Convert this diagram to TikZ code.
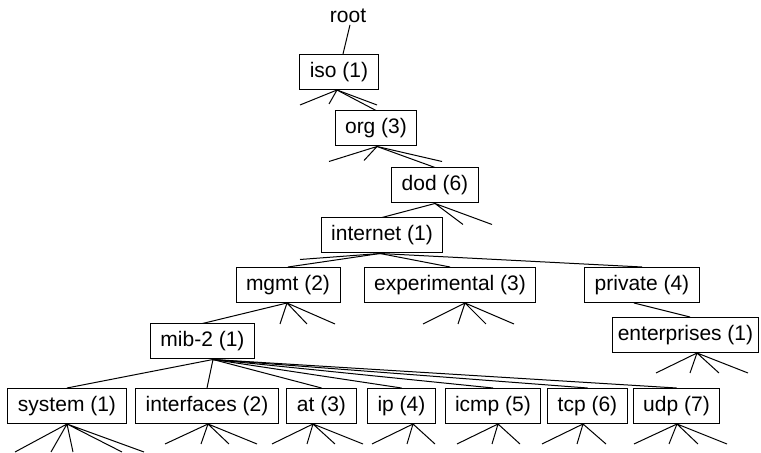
\documentclass[tikz,border=0pt]{standalone}
\usepackage{fontspec}
\setmainfont{Liberation Sans}
\begin{document}
\begin{tikzpicture}[x=0.5pt,y=-0.5pt,line width=0.5pt]
\tikzstyle{oid}=[draw, inner xsep=5pt, inner ysep=0pt, minimum height=17.5pt, font=\fontsize{10.5pt}{12pt}\selectfont]
\useasboundingbox (0,0) rectangle (761,453);
\node[inner sep=1pt, font=\fontsize{10.5pt}{12pt}\selectfont] (root) at (348,15.5) {root};
\node[oid] (iso) at (339,72) {iso (1)};
\node[oid] (org) at (376,128.5) {org (3)};
\node[oid] (dod) at (435,185.5) {dod (6)};
\node[oid] (internet) at (382,235.5) {internet (1)};
\node[oid] (mgmt) at (288,285) {mgmt (2)};
\node[oid] (experimental) at (450,285) {experimental (3)};
\node[oid] (private) at (642,285) {private (4)};
\node[oid, inner xsep=2.5pt] (enterprises) at (685.5,335) {enterprises (1)};
\node[oid] (mib) at (202.5,341.5) {mib-2 (1)};
\node[oid] (system) at (67,406) {system (1)};
\node[oid] (interfaces) at (207,406) {interfaces (2)};
\node[oid] (attab) at (321.5,406) {at (3)};
\node[oid] (ip) at (401.5,406) {ip (4)};
\node[oid] (icmp) at (493,406) {icmp (5)};
\node[oid] (tcp) at (587.5,406) {tcp (6)};
\node[oid] (udp) at (676.5,406) {udp (7)};
% where the branches leave each box
\coordinate (iso-o) at ([xshift=-1pt]iso.south);
\coordinate (org-o) at ([xshift=0.5pt]org.south);
\coordinate (dod-o) at (dod.south);
\coordinate (internet-o) at ([xshift=-1pt]internet.south);
\coordinate (mgmt-o) at ([xshift=-0.5pt]mgmt.south);
\coordinate (experimental-o) at ([xshift=7.5pt]experimental.south);
\coordinate (private-o) at ([xshift=-4pt]private.south);
\coordinate (enterprises-o) at ([xshift=5.75pt]enterprises.south);
\coordinate (mib-o) at ([xshift=5.25pt]mib.south);
\coordinate (system-o) at (system.south);
\coordinate (interfaces-o) at ([xshift=0.5pt]interfaces.south);
\coordinate (attab-o) at ([xshift=-4.25pt]attab.south);
\coordinate (ip-o) at ([xshift=5.75pt]ip.south);
\coordinate (icmp-o) at ([xshift=2.5pt]icmp.south);
\coordinate (tcp-o) at ([xshift=-2.25pt]tcp.south);
\coordinate (udp-o) at ([xshift=0.25pt]udp.south);
% tree edges
\draw ([xshift=1pt]root.south) -- ([xshift=2pt]iso.north);
\draw (iso-o) -- (org.north);
\draw (org-o) -- (dod.north);
\draw (dod-o) -- (internet.north);
\draw (internet-o) -- (mgmt.north);
\draw (internet-o) -- (experimental.north);
\draw (internet-o) -- (private.north);
\draw (mgmt-o) -- (mib.north);
\draw (private-o) -- ([xshift=2.25pt]enterprises.north);
\draw (mib-o) -- (system.north);
\draw (mib-o) -- (interfaces.north);
\draw (mib-o) -- (attab.north);
\draw (mib-o) -- (ip.north);
\draw (mib-o) -- (icmp.north);
\draw (mib-o) -- (tcp.north);
\draw (mib-o) -- (udp.north);
% other branches
\draw (iso-o) -- ++(-37,15) (iso-o) -- ++(-8,14) (iso-o) -- ++(40,15);
\draw (org-o) -- ++(-48,15) (org-o) -- ++(-13,14) (org-o) -- ++(65,15);
\draw (dod-o) -- ++(28,21) (dod-o) -- ++(57,21);
\draw (internet-o) -- ++(-80,6);
\draw (mgmt-o) -- ++(-7,21) (mgmt-o) -- ++(20,21) (mgmt-o) -- ++(48,21);
\draw (experimental-o) -- ++(-42,21) (experimental-o) -- ++(-7,21) (experimental-o) -- ++(21,21) (experimental-o) -- ++(49,21);
\draw (enterprises-o) -- ++(-41,20) (enterprises-o) -- ++(-7,20) (enterprises-o) -- ++(22,20) (enterprises-o) -- ++(51,20);
\draw (system-o) -- ++(-52,28) (system-o) -- ++(-16,28) (system-o) -- ++(6,28) (system-o) -- ++(55,28) (system-o) -- ++(77,28);
\draw (interfaces-o) -- ++(-43,20) (interfaces-o) -- ++(-7,20) (interfaces-o) -- ++(21,20) (interfaces-o) -- ++(49,20);
\draw (attab-o) -- ++(-41,20) (attab-o) -- ++(-6,20) (attab-o) -- ++(22,20) (attab-o) -- ++(50,20);
\draw (ip-o) -- ++(-41,20) (ip-o) -- ++(-6,20) (ip-o) -- ++(22,20);
\draw (icmp-o) -- ++(-41,20) (icmp-o) -- ++(-6,20) (icmp-o) -- ++(22,20);
\draw (tcp-o) -- ++(-41,20) (tcp-o) -- ++(-6,20) (tcp-o) -- ++(23,20);
\draw (udp-o) -- ++(-43,20) (udp-o) -- ++(-8,20) (udp-o) -- ++(21,20) (udp-o) -- ++(50,20);
\end{tikzpicture}
\end{document}
